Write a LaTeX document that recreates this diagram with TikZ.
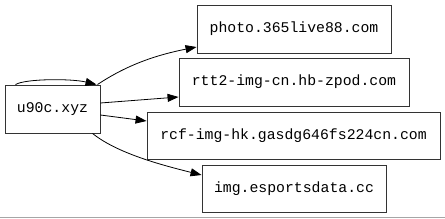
\documentclass[tikz,border=0pt]{standalone}
\usepackage{fontspec}
\setmonofont{Liberation Mono}
\usetikzlibrary{arrows.meta,calc}
\begin{document}
\begin{tikzpicture}[x=1pt,y=-1pt,
  box/.style={draw=black!80,line width=0.9pt,inner sep=0pt,font=\ttfamily\fontsize{14.8}{15}\selectfont},
  edge/.style={line width=0.8pt,-{Triangle[length=11pt,width=8pt]}}]
\useasboundingbox (0,0) rectangle (445,219);
\draw[black!35,line width=0.8pt] (0,217.5) -- (445,217.5);
\node[box,minimum width=95pt,minimum height=48pt] (u) at (52.5,109) {u90c.xyz};
\node[box,minimum width=194pt,minimum height=48pt] (p) at (294,29) {photo.365live88.com};
\node[box,minimum width=230pt,minimum height=48pt] (r) at (294,82) {rtt2-img-cn.hb-zpod.com};
\node[box,minimum width=293pt,minimum height=47pt] (c) at (293.5,135.5) {rcf-img-hk.gasdg646fs224cn.com};
\node[box,minimum width=184pt,minimum height=47pt] (i) at (294,188.5) {img.esportsdata.cc};
\draw[edge] ($(u.north)+(-37,0)$) .. controls +(10,-6) and +(-25,-6) .. ($(u.north)+(44,0)$);
\draw[edge] ($(u.north)+(45,0)$) .. controls +(30,-20) and +(-40,8) .. ($(p.west)+(0,18)$);
\draw[edge] ($(u.east)+(0,-6)$) -- ($(r.west)+(0,15)$);
\draw[edge] ($(u.east)+(0,6)$) -- ($(c.west)+(0,-14.5)$);
\draw[edge] ($(u.south)+(40,0)$) .. controls +(25,20) and +(-40,-10) .. ($(i.west)+(0,-13.5)$);
\end{tikzpicture}
\end{document}
